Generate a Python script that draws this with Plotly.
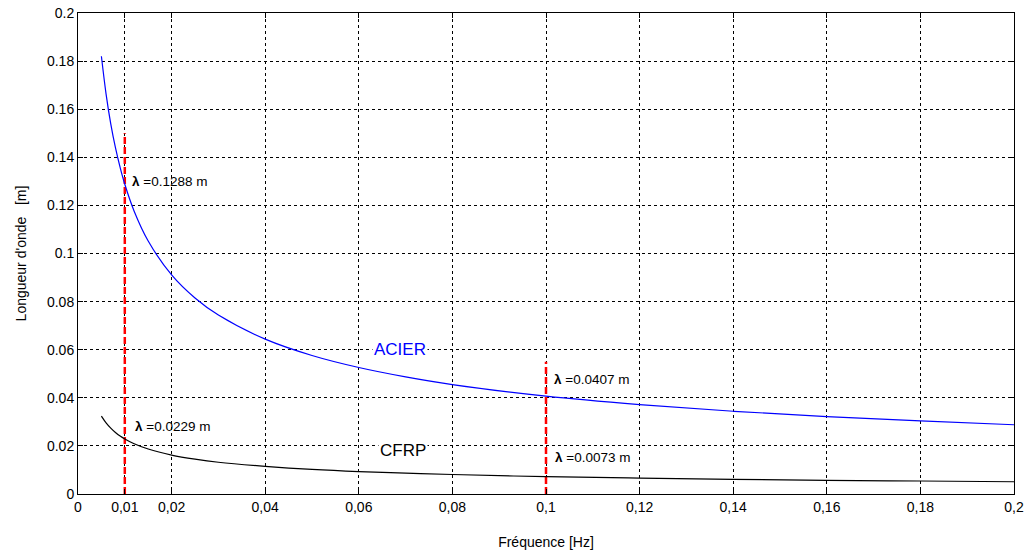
import plotly.graph_objects as go

# Frequency samples [Hz]
freq = [0.005, 0.006, 0.007, 0.008, 0.009, 0.01, 0.012, 0.015, 0.02, 0.025, 0.03,
        0.04, 0.05, 0.06, 0.07, 0.08, 0.1, 0.12, 0.14, 0.16, 0.18, 0.2]
# Wavelength [m]
acier = [0.182, 0.1663, 0.1539, 0.1440, 0.1358, 0.1288, 0.1176, 0.1052, 0.0911, 0.0815, 0.0744,
         0.0644, 0.0576, 0.0526, 0.0487, 0.0455, 0.0407, 0.0372, 0.0344, 0.0322, 0.0304, 0.0288]
cfrp = [0.0324, 0.0296, 0.0274, 0.0256, 0.0241, 0.0229, 0.0209, 0.0187, 0.0162, 0.0145, 0.0132,
        0.0115, 0.0102, 0.0093, 0.0087, 0.0081, 0.0072, 0.0066, 0.0061, 0.0057, 0.0054, 0.0051]

# Red markers (frequency, top of dashed line)
marker_f = [0.01, 0.1]
marker_top = [0.15, 0.055]

# Annotation labels
lam_labels = ["=0.1288 m", "=0.0229 m", "=0.0407 m", "=0.0073 m"]
lam_x = [0.0111, 0.0118, 0.1013, 0.1015]
lam_y = [0.130, 0.0279, 0.0478, 0.015]

x_tickvals = [0, 0.01, 0.02, 0.04, 0.06, 0.08, 0.1, 0.12, 0.14, 0.16, 0.18, 0.2]
x_ticktext = ["0", "0,01", "0,02", "0,04", "0,06", "0,08", "0,1", "0,12", "0,14", "0,16", "0,18", "0,2"]
y_tickvals = [0, 0.02, 0.04, 0.06, 0.08, 0.1, 0.12, 0.14, 0.16, 0.18, 0.2]
y_ticktext = ["0", "0.02", "0.04", "0.06", "0.08", "0.1", "0.12", "0.14", "0.16", "0.18", "0.2"]

FAM = "Liberation Sans, Arial, sans-serif"
font = dict(family=FAM, size=14, color="black")

fig = go.Figure()
for f, top in zip(marker_f, marker_top):
    fig.add_trace(go.Scatter(x=[f, f], y=[0, top], mode="lines",
                             line=dict(color="#ff0000", width=2.5, dash="7px,3px"),
                             showlegend=False, hoverinfo="skip"))
fig.add_trace(go.Scatter(x=freq, y=acier, mode="lines", name="ACIER",
                         line=dict(color="#0000ff", width=1.2, shape="spline"), showlegend=False))
fig.add_trace(go.Scatter(x=freq, y=cfrp, mode="lines", name="CFRP",
                         line=dict(color="#000000", width=1.2, shape="spline"), showlegend=False))

for t, x, y in zip(lam_labels, lam_x, lam_y):
    fig.add_annotation(x=x, y=y, text="<b>λ</b> " + t, showarrow=False,
                       xanchor="left", yanchor="middle", font=dict(family=FAM, size=13.5, color="black"))
fig.add_annotation(x=0.0688, y=0.0599, text="ACIER", showarrow=False, bgcolor="white", borderpad=1,
                   font=dict(family=FAM, size=17, color="#0000ff"))
fig.add_annotation(x=0.0694, y=0.0179, text="CFRP", showarrow=False, bgcolor="white", borderpad=1,
                   font=dict(family=FAM, size=17, color="black"))

axis_common = dict(showline=True, linecolor="black", linewidth=1, mirror="ticks",
                   ticks="inside", ticklen=5, tickcolor="black",
                   showgrid=True, gridcolor="black", gridwidth=1, griddash="3px,3px",
                   zeroline=False, tickfont=font, automargin=False)
fig.update_xaxes(range=[0, 0.2], tickvals=x_tickvals, ticktext=x_ticktext,
                 title=dict(text="Fréquence [Hz]", font=font, standoff=23), **axis_common)
fig.update_yaxes(range=[0, 0.2], tickvals=y_tickvals, ticktext=y_ticktext,
                 title=dict(text="Longueur d'onde   [m]", font=font, standoff=17), **axis_common)

fig.update_layout(width=1026, height=557, plot_bgcolor="white", paper_bgcolor="white",
                  margin=dict(l=78, r=12, t=13, b=63, autoexpand=False), font=font)
fig.write_html("out.html", config={"displayModeBar": False},
               post_script="document.body.style.margin='0';document.body.style.overflow='hidden';")
